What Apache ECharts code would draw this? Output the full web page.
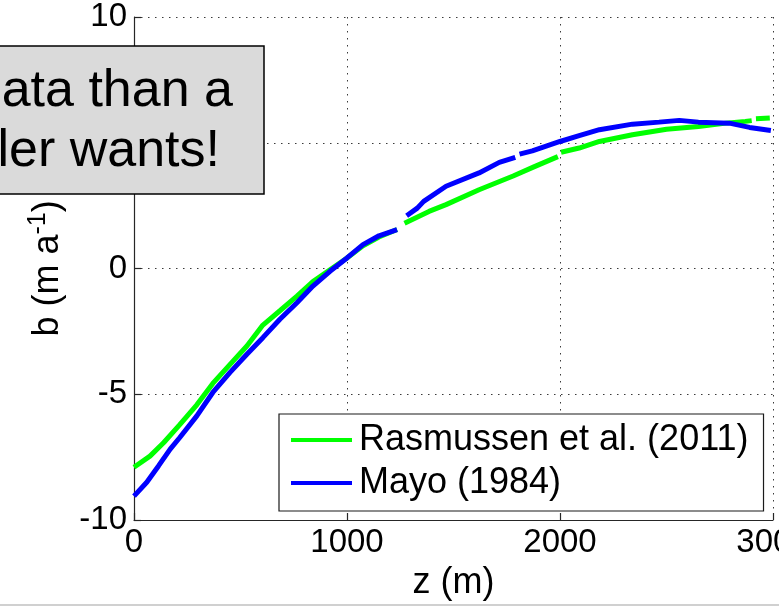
<!DOCTYPE html>
<html>
<head>
<meta charset="utf-8">
<script src="https://cdn.jsdelivr.net/npm/echarts@6/dist/echarts.min.js"></script>
<style>
  html, body { margin: 0; padding: 0; background: #ffffff; }
  #chart { width: 779px; height: 606px; }
</style>
</head>
<body>
<div id="chart"></div>
<script>
// Surface mass balance b against elevation z, two parameterisations.
const seriesNames = ['Rasmussen et al. (2011)', 'Mayo (1984)'];

// null marks a break in the plotted curve
const zRasmussen = [0, 75, 140, 215, 295, 370, 450, 530, 605, 685, 765, 840, 920, 1000, 1075, 1150, 1235, 1250,
  1270, 1385, 1465, 1620, 1780, 1880, 1990, 1998,
  2005, 2090, 2185, 2340, 2500, 2650, 2780, 2870, 2900, 2910,
  2920, 2985];
const bRasmussen = [-7.90, -7.46, -6.92, -6.21, -5.42, -4.57, -3.82, -3.08, -2.25, -1.68, -1.10, -0.52, -0.05, 0.42, 0.90, 1.25, 1.55, null,
  1.80, 2.27, 2.54, 3.13, 3.68, 4.05, 4.45, null,
  4.62, 4.79, 5.05, 5.32, 5.54, 5.65, 5.78, 5.85, 5.88, null,
  5.95, 5.98];

const zMayo = [0, 60, 115, 170, 215, 295, 370, 450, 530, 605, 685, 765, 840, 920, 1000, 1075, 1150, 1235, 1255,
  1280, 1330, 1360, 1465, 1620, 1715, 1790, 1800,
  1810, 1870, 2000, 2090, 2185, 2340, 2465, 2560, 2650, 2795, 2890, 2990];
const bMayo = [-9.05, -8.50, -7.85, -7.18, -6.72, -5.86, -4.93, -4.14, -3.41, -2.75, -2.02, -1.36, -0.70, -0.11, 0.42, 0.95, 1.30, 1.55, null,
  2.10, 2.40, 2.67, 3.27, 3.80, 4.22, 4.42, null,
  4.55, 4.68, 5.05, 5.28, 5.52, 5.74, 5.82, 5.89, 5.82, 5.78, 5.61, 5.49];

const xTicks = [0, 1000, 2000, 3000];
const yTicks = [-10, -5, 0, 5, 10];

const boxLines = ['ata than a', 'ler wants!'];

const FONT = '"Liberation Sans", Arial, Helvetica, sans-serif';
const AXIS_COLOR = '#262626';

function pairs(zs, bs) {
  return zs.map((z, i) => [z, bs[i] === null ? NaN : bs[i]]);
}

const chart = echarts.init(document.getElementById('chart'), null, { renderer: 'canvas' });

const gridDots = { color: '#3a3a3a', width: 1, type: [1.5, 5.5] };

chart.setOption({
  backgroundColor: '#ffffff',
  animation: false,
  textStyle: { fontFamily: FONT },
  grid: {
    left: 134, top: 17, width: 639, height: 503,
    outerBoundsMode: 'none',
    containLabel: false
  },
  xAxis: {
    type: 'value',
    min: xTicks[0], max: xTicks[xTicks.length - 1], interval: 1000,
    name: 'z (m)', nameLocation: 'middle', nameGap: 45,
    nameTextStyle: { fontSize: 36, color: '#000', fontFamily: FONT },
    axisLine: { show: true, onZero: false, lineStyle: { color: AXIS_COLOR, width: 1.2 } },
    axisTick: { show: true, inside: true, length: 7, lineStyle: { color: AXIS_COLOR, width: 1.2 } },
    axisLabel: { fontSize: 33, color: '#000', margin: 6, fontFamily: FONT, formatter: v => String(v) },
    splitLine: { show: true, lineStyle: gridDots }
  },
  yAxis: {
    type: 'value',
    min: yTicks[0], max: yTicks[yTicks.length - 1], interval: 5,
    name: '{n|b (m a}{s|-1}{n|)}', nameLocation: 'middle', nameGap: 68, nameRotate: 90,
    nameTextStyle: {
      color: '#000', fontFamily: FONT,
      rich: {
        n: { fontSize: 36, color: '#000', fontFamily: FONT, verticalAlign: 'bottom', lineHeight: 40 },
        s: { fontSize: 25, color: '#000', fontFamily: FONT, verticalAlign: 'top', lineHeight: 26 }
      }
    },
    axisLine: { show: true, onZero: false, lineStyle: { color: AXIS_COLOR, width: 1.2 } },
    axisTick: { show: true, inside: true, length: 7, lineStyle: { color: AXIS_COLOR, width: 1.2 } },
    axisLabel: { fontSize: 33, color: '#000', margin: 7, fontFamily: FONT, formatter: v => String(v) },
    splitLine: { show: true, lineStyle: gridDots }
  },
  legend: {
    orient: 'vertical',
    left: 279, top: 414,
    padding: [6, 15, 8, 12],
    itemGap: 3,
    itemWidth: 61, itemHeight: 4,
    icon: 'rect',
    backgroundColor: '#ffffff',
    borderColor: '#1a1a1a', borderWidth: 1.2, borderRadius: 0,
    textStyle: { fontSize: 36, color: '#000', fontFamily: FONT, lineHeight: 40, padding: [0, 0, 0, 2] },
    data: seriesNames,
    z: 20
  },
  series: [
    {
      name: seriesNames[0], type: 'line',
      data: pairs(zRasmussen, bRasmussen),
      showSymbol: false, symbol: 'none',
      connectNulls: false,
      lineStyle: { color: '#00ff00', width: 5 },
      itemStyle: { color: '#00ff00' },
      z: 3
    },
    {
      name: seriesNames[1], type: 'line',
      data: pairs(zMayo, bMayo),
      showSymbol: false, symbol: 'none',
      connectNulls: false,
      lineStyle: { color: '#0000ff', width: 5 },
      itemStyle: { color: '#0000ff' },
      z: 4
    }
  ],
  graphic: [
    {
      type: 'rect', z: 100,
      shape: { x: -10, y: 46, width: 274, height: 148 },
      style: { fill: '#dadada', stroke: '#000000', lineWidth: 1.5 }
    },
    {
      type: 'text', z: 101, x: 233, y: 92,
      style: { text: boxLines[0], fontSize: 52, fontFamily: FONT, fill: '#000', align: 'right', verticalAlign: 'middle' }
    },
    {
      type: 'text', z: 101, x: 220, y: 152,
      style: { text: boxLines[1], fontSize: 52, fontFamily: FONT, fill: '#000', align: 'right', verticalAlign: 'middle' }
    },
    {
      type: 'rect', z: 100,
      shape: { x: 0, y: 604, width: 779, height: 2 },
      style: { fill: '#d0d0d0' }
    }
  ]
});
</script>
</body>
</html>
